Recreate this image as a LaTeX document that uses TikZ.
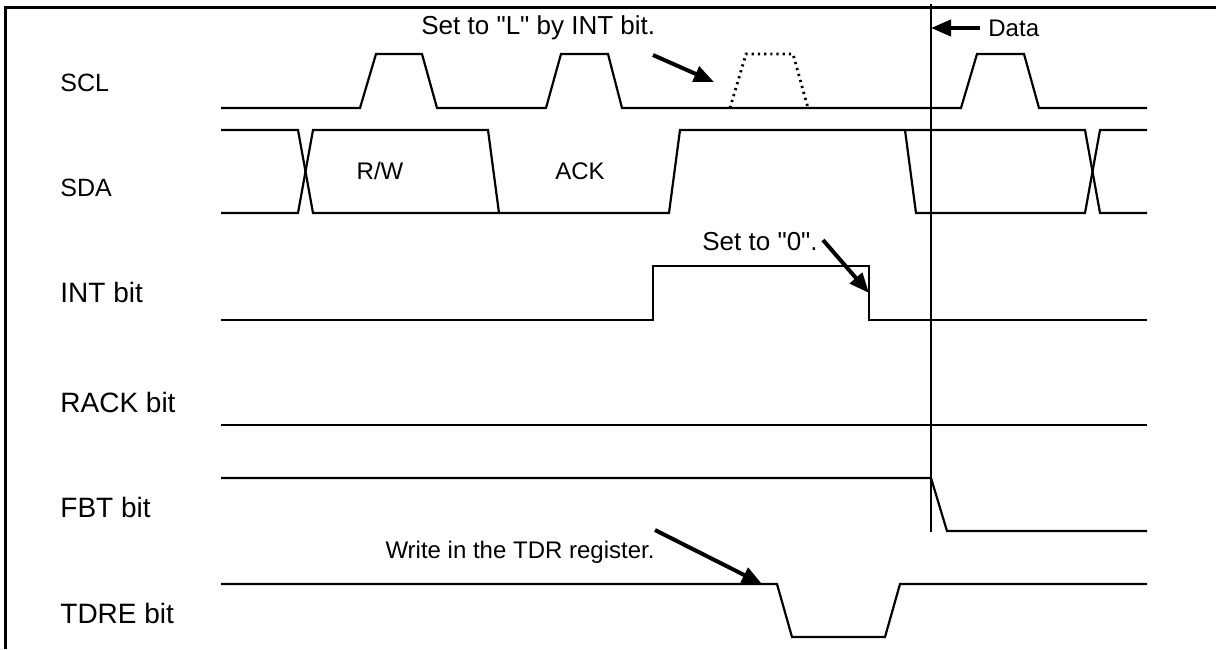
\documentclass[tikz,border=0pt]{standalone}
\usepackage{fontspec}
\setmainfont{Liberation Sans}
\usetikzlibrary{arrows.meta}
\newcommand{\dq}{\textquotedbl}
\tikzset{
  wave/.style={line width=1.1pt, line join=miter},
  ghostwave/.style={wave, dotted, line width=1.4pt},
  frameline/.style={line width=1.5pt},
  dataline/.style={line width=1.2pt},
  sig/.style={font=\fontsize{14}{16}\selectfont, anchor=west, inner sep=0pt},
  bus/.style={sig, font=\fontsize{12.5}{15}\selectfont},
  note/.style={font=\fontsize{12}{14}\selectfont, inner sep=0pt},
  bignote/.style={note, font=\fontsize{13}{15}\selectfont},
  pre/.style={-{Triangle[length=10pt,width=8pt]}, line width=2pt},
}
\begin{document}
\begin{tikzpicture}[x=0.5pt,y=-0.5pt]
\useasboundingbox (0,0) rectangle (1217,649);
% frame
\draw[frameline] (5,649) -- (5,7) -- (1216,7);
% signal names
\node[bus] (lscl) at (60,83) {SCL};
\node[bus] (lsda) at (60,188) {SDA};
\node[sig] (lint) at (60,292) {INT bit};
\node[sig] (lrack) at (60,402) {RACK bit};
\node[sig] (lfbt) at (60,507) {FBT bit};
\node[sig] (ltdre) at (60,613) {TDRE bit};
% SCL
\draw[wave] (221,108) -- (360,108) -- (376,54) -- (422,54) -- (437,108)
  -- (546,108) -- (561,54) -- (608,54) -- (622,108) -- (961,108)
  -- (977,54) -- (1024,54) -- (1039,108) -- (1147,108);
\draw[ghostwave] (730,108) -- (746,54) -- (793,54) -- (808,108);
% SDA
\draw[wave] (221,130) -- (298,130) -- (313,213) -- (669,213) -- (680,130)
  -- (1085,130) -- (1100,213) -- (1147,213);
\draw[wave] (221,213) -- (298,213) -- (313,130) -- (488,130) -- (499,213);
\draw[wave] (905,130) -- (916,213) -- (1085,213) -- (1100,130) -- (1147,130);
\node[note] (rw) at (380,171) {R/W};
\node[note] (ack) at (580,171) {ACK};
% INT bit
\draw[wave] (221,320) -- (653,320) -- (653,266) -- (869,266) -- (869,320) -- (1147,320);
% RACK bit
\draw[wave] (221,425) -- (1147,425);
% FBT bit
\draw[wave] (221,478) -- (931,478) -- (947,531) -- (1147,531);
% TDRE bit
\draw[wave] (221,584) -- (777,584) -- (792,637) -- (885,637) -- (900,584) -- (1147,584);
% data marker
\draw[dataline] (931,4) -- (931,532);
% notes and arrows
\node[bignote, anchor=west] (nint) at (421,28) {Set to \dq L\dq{} by INT bit.};
\node[note, anchor=west] (ndata) at (988,28) {Data};
\node[bignote, anchor=west] (nzero) at (702,242) {Set to \dq 0\dq.};
\node[note] (ntdr) at (520,552) {Write in the TDR register.};
\coordinate (tint) at (653,55);
\coordinate (hint) at (714,82);
\coordinate (tdata) at (980,28);
\coordinate (hdata) at (931,28);
\coordinate (tzero) at (823,240);
\coordinate (hzero) at (869,293);
\coordinate (ttdr) at (655,530);
\coordinate (htdr) at (762,584);
\draw[pre] (tint) -- (hint);
\draw[pre] (tdata) -- (hdata);
\draw[pre] (tzero) -- (hzero);
\draw[pre] (ttdr) -- (htdr);
\end{tikzpicture}
\end{document}
